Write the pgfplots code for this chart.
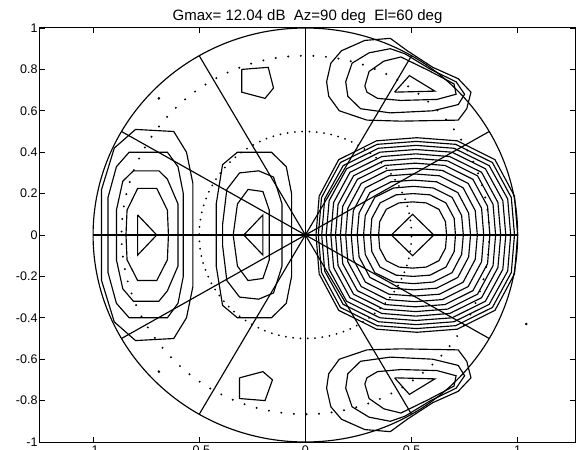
\documentclass[border=0pt]{standalone}
\usepackage{fontspec}
\setmainfont{Liberation Sans}
\usepackage{pgfplots}
\pgfplotsset{compat=1.18}
\usetikzlibrary{calc}

\begin{document}
\begin{tikzpicture}[x=1pt,y=1pt]
\begin{axis}[
  scale only axis, width=535pt, height=414pt,
  xmin=-1.25, xmax=1.27, ymin=-1, ymax=1,
  xtick={-1,-0.5,0,0.5,1},
  ytick={-1,-0.8,-0.6,-0.4,-0.2,0,0.2,0.4,0.6,0.8,1},
  tick align=inside, major tick length=5pt,
  axis line style={line width=1pt},
  every tick/.style={black, line width=0.8pt},
  ticklabel style={font=\fontsize{12.5}{14}\selectfont},
  /pgf/number format/assume math mode=true,
  yticklabel style={/pgf/number format/fixed, /pgf/number format/precision=1, xshift=1pt},
  title={Gmax= 12.04 dB\ \ Az=90 deg\ \ El=60 deg},
  title style={font=\fontsize{15}{17}\selectfont, yshift=-5pt},
  ctr/.style={black, line width=1.15pt, mark=none},
]
% polar frame: unit circle, elevation circles and azimuth spokes
\draw[line width=1.15pt] (axis cs:0,0) ellipse [x radius=1, y radius=1];
\draw[line width=2.2pt, line cap=round, dash pattern=on 0pt off 12.6pt] (axis cs:0,0) ellipse [x radius=0.866, y radius=0.866];
\draw[line width=2pt, line cap=round, dash pattern=on 0pt off 7.3pt] (axis cs:0,0) ellipse [x radius=0.5, y radius=0.5];
\addplot[ctr] coordinates {(-1,0)(1,0)};
\addplot[ctr] coordinates {(0,-1)(0,1)};
\addplot[ctr] coordinates {(-0.866,-0.5)(0.866,0.5)};
\addplot[ctr] coordinates {(-0.866,0.5)(0.866,-0.5)};
\addplot[ctr] coordinates {(-0.5,-0.866)(0.5,0.866)};
\addplot[ctr] coordinates {(-0.5,0.866)(0.5,-0.866)};
\addplot[only marks, mark=*, mark size=1.1pt, black] coordinates {(-0.69,0.66)(-0.69,-0.66)(1.04,-0.43)};

% main beam
\addplot[ctr] coordinates {(0.605,0)(0.505,0.1)(0.405,0)(0.505,-0.1)(0.605,0)};
\addplot[ctr] coordinates {(0.665,0)(0.660,0.064)(0.629,0.124)(0.569,0.155)(0.505,0.16)(0.441,0.155)(0.381,0.124)(0.350,0.064)(0.345,0)(0.350,-0.064)(0.381,-0.124)(0.441,-0.155)(0.505,-0.16)(0.569,-0.155)(0.629,-0.124)(0.660,-0.064)(0.665,0)};
\addplot[ctr] coordinates {(0.707,0)(0.701,0.080)(0.662,0.155)(0.587,0.194)(0.507,0.20)(0.427,0.194)(0.352,0.155)(0.313,0.080)(0.307,0)(0.313,-0.080)(0.352,-0.155)(0.427,-0.194)(0.507,-0.20)(0.587,-0.194)(0.662,-0.155)(0.701,-0.080)(0.707,0)};
\addplot[ctr] coordinates {(0.744,0)(0.736,0.094)(0.691,0.182)(0.603,0.227)(0.509,0.235)(0.415,0.227)(0.327,0.182)(0.282,0.094)(0.274,0)(0.282,-0.094)(0.327,-0.182)(0.415,-0.227)(0.509,-0.235)(0.603,-0.227)(0.691,-0.182)(0.736,-0.094)(0.744,0)};
\addplot[ctr] coordinates {(0.778,0)(0.769,0.106)(0.718,0.205)(0.618,0.257)(0.511,0.265)(0.404,0.257)(0.304,0.205)(0.253,0.106)(0.244,0)(0.253,-0.106)(0.304,-0.205)(0.404,-0.257)(0.511,-0.265)(0.618,-0.257)(0.718,-0.205)(0.769,-0.106)(0.778,0)};
\addplot[ctr] coordinates {(0.810,0)(0.800,0.118)(0.743,0.228)(0.632,0.286)(0.513,0.295)(0.394,0.286)(0.283,0.228)(0.226,0.118)(0.216,0)(0.226,-0.118)(0.283,-0.228)(0.394,-0.286)(0.513,-0.295)(0.632,-0.286)(0.743,-0.228)(0.800,-0.118)(0.810,0)};
\addplot[ctr] coordinates {(0.840,0)(0.830,0.129)(0.767,0.249)(0.645,0.312)(0.515,0.322)(0.385,0.312)(0.263,0.249)(0.200,0.129)(0.190,0)(0.200,-0.129)(0.263,-0.249)(0.385,-0.312)(0.515,-0.322)(0.645,-0.312)(0.767,-0.249)(0.830,-0.129)(0.840,0)};
\addplot[ctr] coordinates {(0.869,0)(0.858,0.139)(0.789,0.269)(0.658,0.336)(0.517,0.347)(0.376,0.336)(0.245,0.269)(0.176,0.139)(0.165,0)(0.176,-0.139)(0.245,-0.269)(0.376,-0.336)(0.517,-0.347)(0.658,-0.336)(0.789,-0.269)(0.858,-0.139)(0.869,0)};
\addplot[ctr] coordinates {(0.896,0)(0.884,0.148)(0.811,0.286)(0.670,0.358)(0.519,0.370)(0.368,0.358)(0.227,0.286)(0.154,0.148)(0.142,0)(0.154,-0.148)(0.227,-0.286)(0.368,-0.358)(0.519,-0.370)(0.670,-0.358)(0.811,-0.286)(0.884,-0.148)(0.896,0)};
\addplot[ctr] coordinates {(0.920,0)(0.907,0.157)(0.830,0.303)(0.680,0.379)(0.520,0.392)(0.360,0.379)(0.210,0.303)(0.133,0.157)(0.120,0)(0.133,-0.157)(0.210,-0.303)(0.360,-0.379)(0.520,-0.392)(0.680,-0.379)(0.830,-0.303)(0.907,-0.157)(0.920,0)};
\addplot[ctr] coordinates {(0.944,0)(0.930,0.166)(0.848,0.320)(0.691,0.400)(0.521,0.413)(0.351,0.400)(0.194,0.320)(0.112,0.166)(0.098,0)(0.112,-0.166)(0.194,-0.320)(0.351,-0.400)(0.521,-0.413)(0.691,-0.400)(0.848,-0.320)(0.930,-0.166)(0.944,0)};
\addplot[ctr] coordinates {(0.967,0)(0.953,0.174)(0.866,0.335)(0.700,0.419)(0.522,0.433)(0.344,0.419)(0.178,0.335)(0.091,0.174)(0.077,0)(0.091,-0.174)(0.178,-0.335)(0.344,-0.419)(0.522,-0.433)(0.700,-0.419)(0.866,-0.335)(0.953,-0.174)(0.967,0)};
\addplot[ctr] coordinates {(0.985,0)(0.970,0.181)(0.881,0.350)(0.708,0.438)(0.523,0.452)(0.338,0.438)(0.165,0.350)(0.076,0.181)(0.061,0)(0.076,-0.181)(0.165,-0.350)(0.338,-0.438)(0.523,-0.452)(0.708,-0.438)(0.881,-0.350)(0.970,-0.181)(0.985,0)};
\addplot[ctr] coordinates {(1.000,0)(0.985,0.188)(0.893,0.364)(0.715,0.455)(0.525,0.470)(0.335,0.455)(0.157,0.364)(0.065,0.188)(0.050,0)(0.065,-0.188)(0.157,-0.364)(0.335,-0.455)(0.525,-0.470)(0.715,-0.455)(0.893,-0.364)(0.985,-0.188)(1.000,0)};

% far left lobe
\addplot[ctr] coordinates {(-0.79,0.097)(-0.70,0)(-0.79,-0.097)(-0.79,0.097)};
\addplot[ctr] coordinates {(-0.65,0.12)(-0.70,0.225)(-0.79,0.225)(-0.84,0.12)(-0.845,0)(-0.84,-0.12)(-0.79,-0.22)(-0.70,-0.22)(-0.65,-0.12)(-0.645,0)(-0.65,0.12)};
\addplot[ctr] coordinates {(-0.60,0.15)(-0.65,0.27)(-0.69,0.31)(-0.81,0.31)(-0.86,0.26)(-0.89,0.12)(-0.89,-0.12)(-0.86,-0.26)(-0.81,-0.32)(-0.69,-0.32)(-0.65,-0.27)(-0.60,-0.15)(-0.60,0.15)};
\addplot[ctr] coordinates {(-0.575,0.2)(-0.60,0.33)(-0.65,0.40)(-0.83,0.40)(-0.89,0.33)(-0.93,0.18)(-0.93,-0.18)(-0.89,-0.33)(-0.83,-0.40)(-0.65,-0.40)(-0.60,-0.33)(-0.575,-0.2)(-0.575,0.2)};
\addplot[ctr] coordinates {(-0.53,0.25)(-0.56,0.40)(-0.62,0.50)(-0.80,0.51)(-0.90,0.42)(-0.96,0.22)(-0.96,-0.22)(-0.90,-0.42)(-0.80,-0.51)(-0.62,-0.50)(-0.56,-0.40)(-0.53,-0.25)(-0.53,0.25)};

% inner left lobe
\addplot[ctr] coordinates {(-0.29,0)(-0.20,0.097)(-0.20,-0.097)(-0.29,0)};
\addplot[ctr] coordinates {(-0.17,0.12)(-0.20,0.21)(-0.27,0.22)(-0.32,0.15)(-0.34,0)(-0.32,-0.15)(-0.27,-0.22)(-0.20,-0.21)(-0.17,-0.12)(-0.17,0.12)};
\addplot[ctr] coordinates {(-0.11,0.15)(-0.15,0.28)(-0.22,0.31)(-0.31,0.30)(-0.37,0.22)(-0.39,0.05)(-0.39,-0.05)(-0.37,-0.22)(-0.31,-0.30)(-0.22,-0.31)(-0.15,-0.28)(-0.11,-0.15)(-0.11,0.15)};
\addplot[ctr] coordinates {(-0.065,0.2)(-0.09,0.33)(-0.16,0.40)(-0.32,0.40)(-0.39,0.34)(-0.42,0.15)(-0.42,-0.15)(-0.39,-0.34)(-0.32,-0.40)(-0.16,-0.40)(-0.09,-0.33)(-0.065,-0.2)(-0.065,0.2)};

% small side lobes
\addplot[ctr] coordinates {(-0.30,0.80)(-0.175,0.81)(-0.15,0.71)(-0.19,0.66)(-0.30,0.69)(-0.30,0.80)};
\addplot[ctr] coordinates {(-0.31,-0.69)(-0.20,-0.66)(-0.155,-0.70)(-0.19,-0.80)(-0.31,-0.79)(-0.31,-0.69)};

% upper right lobe
\addplot[ctr] coordinates {(0.42,0.69)(0.61,0.695)(0.49,0.77)(0.42,0.69)};
\addplot[ctr] coordinates {(0.28,0.72)(0.30,0.79)(0.37,0.84)(0.45,0.86)(0.58,0.795)(0.70,0.73)(0.71,0.68)(0.62,0.655)(0.45,0.65)(0.34,0.66)(0.29,0.69)(0.28,0.72)};
\addplot[ctr] coordinates {(0.19,0.74)(0.22,0.83)(0.30,0.88)(0.40,0.90)(0.47,0.875)(0.59,0.80)(0.71,0.74)(0.75,0.68)(0.72,0.63)(0.60,0.60)(0.40,0.59)(0.26,0.61)(0.20,0.67)(0.19,0.74)};
\addplot[ctr] coordinates {(0.10,0.74)(0.12,0.83)(0.17,0.89)(0.28,0.94)(0.40,0.95)(0.48,0.89)(0.60,0.81)(0.72,0.755)(0.78,0.69)(0.76,0.61)(0.72,0.555)(0.45,0.55)(0.29,0.555)(0.16,0.60)(0.11,0.67)(0.10,0.74)};

% lower right lobe
\addplot[ctr] coordinates {(0.42,-0.69)(0.61,-0.695)(0.49,-0.77)(0.42,-0.69)};
\addplot[ctr] coordinates {(0.28,-0.72)(0.30,-0.79)(0.37,-0.84)(0.45,-0.86)(0.58,-0.795)(0.70,-0.73)(0.71,-0.68)(0.62,-0.655)(0.45,-0.65)(0.34,-0.66)(0.29,-0.69)(0.28,-0.72)};
\addplot[ctr] coordinates {(0.19,-0.74)(0.22,-0.83)(0.30,-0.88)(0.40,-0.90)(0.47,-0.875)(0.59,-0.80)(0.71,-0.74)(0.75,-0.68)(0.72,-0.63)(0.60,-0.60)(0.40,-0.59)(0.26,-0.61)(0.20,-0.67)(0.19,-0.74)};
\addplot[ctr] coordinates {(0.10,-0.74)(0.12,-0.83)(0.17,-0.89)(0.28,-0.94)(0.40,-0.95)(0.48,-0.89)(0.60,-0.81)(0.72,-0.755)(0.78,-0.69)(0.76,-0.61)(0.72,-0.555)(0.45,-0.55)(0.29,-0.555)(0.16,-0.60)(0.11,-0.67)(0.10,-0.74)};
\end{axis}
\pgfresetboundingbox
\path[use as bounding box] ($(current axis.south west)+(-40pt,-8pt)$) rectangle ($(current axis.north east)+(1pt,28pt)$);
\end{tikzpicture}
\end{document}
